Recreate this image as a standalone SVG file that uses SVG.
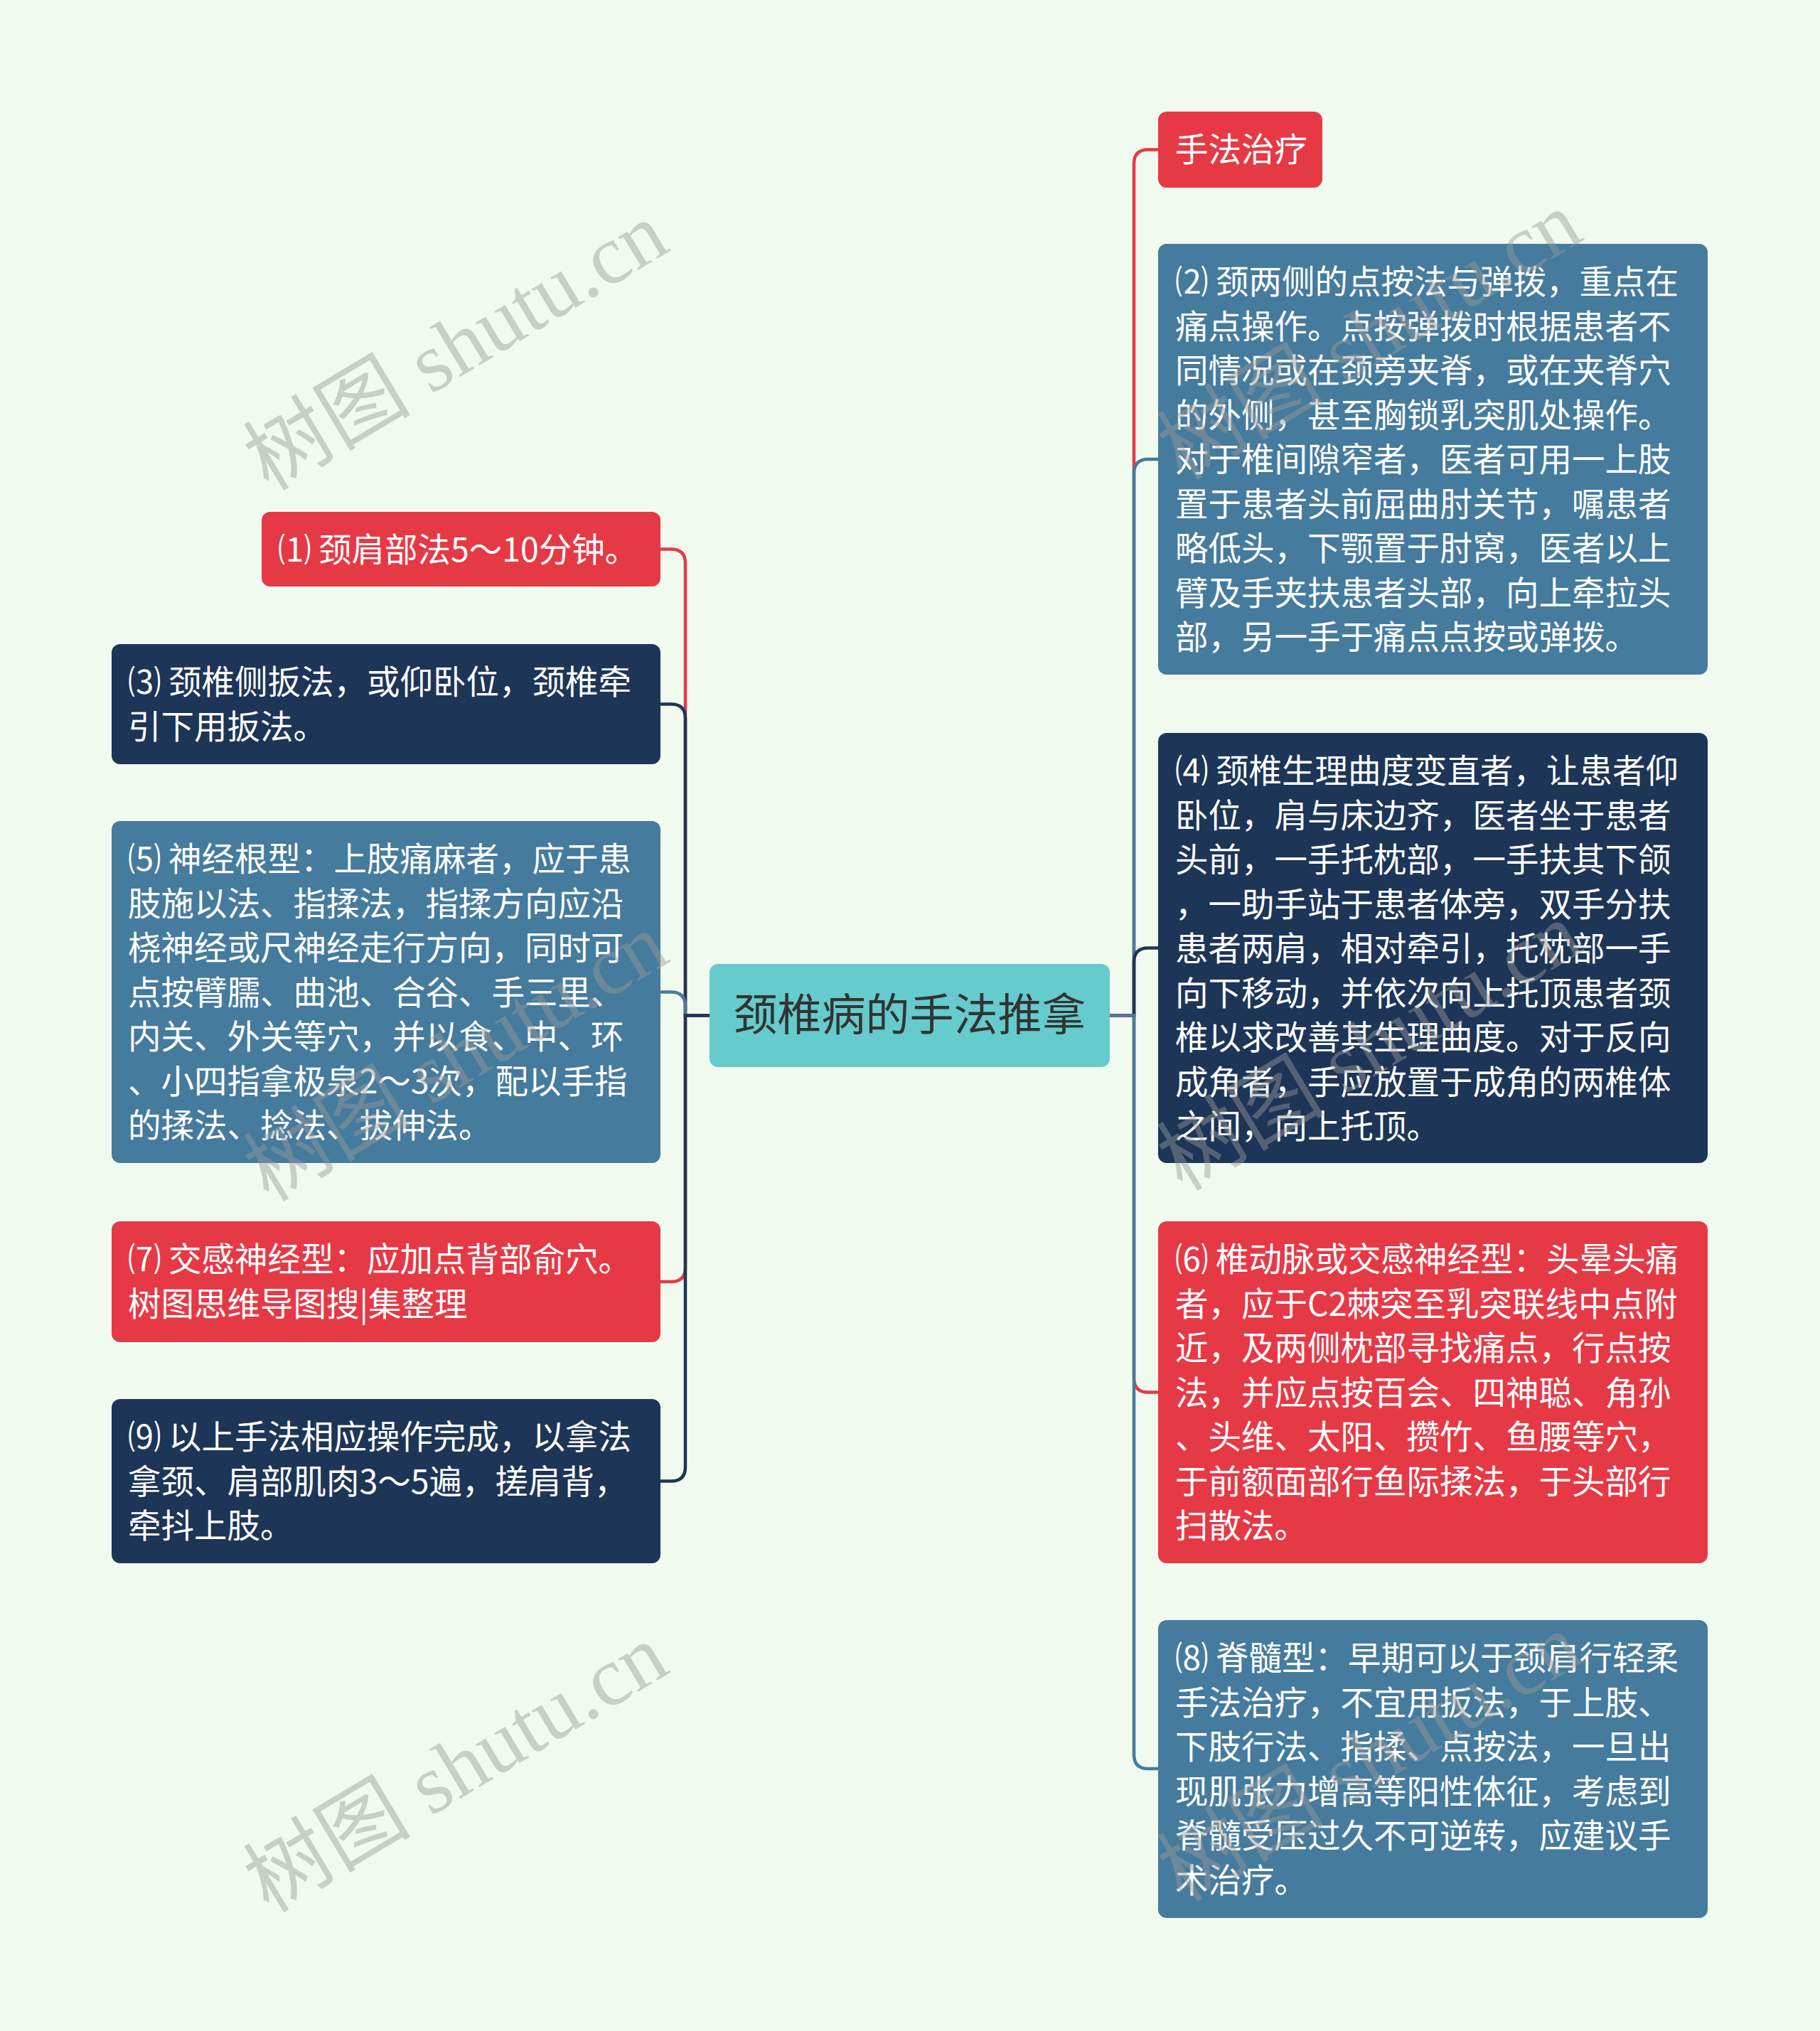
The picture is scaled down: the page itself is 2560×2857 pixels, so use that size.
<svg xmlns="http://www.w3.org/2000/svg" width="2560" height="2857" viewBox="0 0 2560 2857">
<style>
.bg{fill:#F1FAEE}
.red{fill:#E63946}
.blue{fill:#457B9D}
.navy{fill:#1D3557}
.root{fill:#65CBCC}
.t{font-family:"Noto Sans CJK SC","Noto Sans",sans-serif;font-size:46.5px;fill:#FFFFFF}
.rt{font-family:"Noto Sans CJK SC","Noto Sans",sans-serif;font-size:62px;fill:#333333}
.c{fill:none;stroke-width:4.5}
.cr{stroke:#E63946}
.cb{stroke:#457B9D}
.cn{stroke:#1D3557}
.wm{font-family:"Liberation Serif","Noto Sans CJK SC",serif;font-size:118px;fill:#9A9A9A;opacity:0.45}
</style>
<rect class="bg" x="0" y="0" width="2560" height="2857"/>

<g id="connectors">
<path class="c cr" d="M1561 1428.5 H1595 V230.5 Q1595 210.5 1615 210.5 H1629"/>
<path class="c cb" d="M1561 1428.5 H1595 V666 Q1595 646 1615 646 H1629"/>
<path class="c cn" d="M1561 1428.5 H1595 V1353.5 Q1595 1333.5 1615 1333.5 H1629"/>
<path class="c cr" d="M1561 1428.5 H1595 V1938.5 Q1595 1958.5 1615 1958.5 H1629"/>
<path class="c cb" d="M1561 1428.5 H1595 V2468 Q1595 2488 1615 2488 H1629"/>
<path class="c cr" d="M998 1428.5 H964 V792.5 Q964 772.5 944 772.5 H929"/>
<path class="c cn" d="M998 1428.5 H964 V1010.5 Q964 990.5 944 990.5 H929"/>
<path class="c cb" d="M998 1428.5 H964 V1415.5 Q964 1395.5 944 1395.5 H929"/>
<path class="c cr" d="M998 1428.5 H964 V1783 Q964 1803 944 1803 H929"/>
<path class="c cn" d="M998 1428.5 H964 V2063.5 Q964 2083.5 944 2083.5 H929"/>
</g>

<g id="root">
<rect class="root" x="998" y="1356" width="563" height="145" rx="12"/>
<text class="rt" x="1279.5" y="1450" text-anchor="middle">颈椎病的手法推拿</text>
</g>

<g id="n-title">
<rect class="red" x="1629" y="157" width="231" height="107" rx="12"/>
<text class="t" x="1653" y="227">手法治疗</text>
</g>

<g id="n2">
<rect class="blue" x="1629" y="343" width="773" height="606" rx="12"/>
<text class="t" x="1653" y="413">
<tspan x="1653" y="413">⑵ 颈两侧的点按法与弹拨，重点在</tspan>
<tspan x="1653" y="475.5">痛点操作。点按弹拨时根据患者不</tspan>
<tspan x="1653" y="538">同情况或在颈旁夹脊，或在夹脊穴</tspan>
<tspan x="1653" y="600.5">的外侧，甚至胸锁乳突肌处操作。</tspan>
<tspan x="1653" y="663">对于椎间隙窄者，医者可用一上肢</tspan>
<tspan x="1653" y="725.5">置于患者头前屈曲肘关节，嘱患者</tspan>
<tspan x="1653" y="788">略低头，下颚置于肘窝，医者以上</tspan>
<tspan x="1653" y="850.5">臂及手夹扶患者头部，向上牵拉头</tspan>
<tspan x="1653" y="913">部，另一手于痛点点按或弹拨。</tspan>
</text>
</g>

<g id="n4">
<rect class="navy" x="1629" y="1031" width="773" height="605" rx="12"/>
<text class="t" x="1653" y="1101">
<tspan x="1653" y="1101">⑷ 颈椎生理曲度变直者，让患者仰</tspan>
<tspan x="1653" y="1163.5">卧位，肩与床边齐，医者坐于患者</tspan>
<tspan x="1653" y="1226">头前，一手托枕部，一手扶其下颌</tspan>
<tspan x="1653" y="1288.5">，一助手站于患者体旁，双手分扶</tspan>
<tspan x="1653" y="1351">患者两肩，相对牵引，托枕部一手</tspan>
<tspan x="1653" y="1413.5">向下移动，并依次向上托顶患者颈</tspan>
<tspan x="1653" y="1476">椎以求改善其生理曲度。对于反向</tspan>
<tspan x="1653" y="1538.5">成角者，手应放置于成角的两椎体</tspan>
<tspan x="1653" y="1601">之间，向上托顶。</tspan>
</text>
</g>

<g id="n6">
<rect class="red" x="1629" y="1718" width="773" height="481" rx="12"/>
<text class="t" x="1653" y="1788">
<tspan x="1653" y="1788">⑹ 椎动脉或交感神经型：头晕头痛</tspan>
<tspan x="1653" y="1850.5">者，应于C2棘突至乳突联线中点附</tspan>
<tspan x="1653" y="1913">近，及两侧枕部寻找痛点，行点按</tspan>
<tspan x="1653" y="1975.5">法，并应点按百会、四神聪、角孙</tspan>
<tspan x="1653" y="2038">、头维、太阳、攒竹、鱼腰等穴，</tspan>
<tspan x="1653" y="2100.5">于前额面部行鱼际揉法，于头部行</tspan>
<tspan x="1653" y="2163">扫散法。</tspan>
</text>
</g>

<g id="n8">
<rect class="blue" x="1629" y="2279" width="773" height="419" rx="12"/>
<text class="t" x="1653" y="2349">
<tspan x="1653" y="2349">⑻ 脊髓型：早期可以于颈肩行轻柔</tspan>
<tspan x="1653" y="2411.5">手法治疗，不宜用扳法，于上肢、</tspan>
<tspan x="1653" y="2474">下肢行法、指揉、点按法，一旦出</tspan>
<tspan x="1653" y="2536.5">现肌张力增高等阳性体征，考虑到</tspan>
<tspan x="1653" y="2599">脊髓受压过久不可逆转，应建议手</tspan>
<tspan x="1653" y="2661.5">术治疗。</tspan>
</text>
</g>

<g id="n1">
<rect class="red" x="368" y="720" width="561" height="105" rx="12"/>
<text class="t" x="391" y="790">⑴ 颈肩部法5～10分钟。</text>
</g>

<g id="n3">
<rect class="navy" x="157" y="906" width="772" height="169" rx="12"/>
<text class="t" x="180" y="976">
<tspan x="180" y="976">⑶ 颈椎侧扳法，或仰卧位，颈椎牵</tspan>
<tspan x="180" y="1038.5">引下用扳法。</tspan>
</text>
</g>

<g id="n5">
<rect class="blue" x="157" y="1155" width="772" height="481" rx="12"/>
<text class="t" x="180" y="1225">
<tspan x="180" y="1225">⑸ 神经根型：上肢痛麻者，应于患</tspan>
<tspan x="180" y="1287.5">肢施以法、指揉法，指揉方向应沿</tspan>
<tspan x="180" y="1350">桡神经或尺神经走行方向，同时可</tspan>
<tspan x="180" y="1412.5">点按臂臑、曲池、合谷、手三里、</tspan>
<tspan x="180" y="1475">内关、外关等穴，并以食、中、环</tspan>
<tspan x="180" y="1537.5">、小四指拿极泉2～3次，配以手指</tspan>
<tspan x="180" y="1600">的揉法、捻法、拔伸法。</tspan>
</text>
</g>

<g id="n7">
<rect class="red" x="157" y="1718" width="772" height="170" rx="12"/>
<text class="t" x="180" y="1788">
<tspan x="180" y="1788">⑺ 交感神经型：应加点背部俞穴。</tspan>
<tspan x="180" y="1850.5">树图思维导图搜|集整理</tspan>
</text>
</g>

<g id="n9">
<rect class="navy" x="157" y="1968" width="772" height="231" rx="12"/>
<text class="t" x="180" y="2038">
<tspan x="180" y="2038">⑼ 以上手法相应操作完成，以拿法</tspan>
<tspan x="180" y="2100.5">拿颈、肩部肌肉3～5遍，搓肩背，</tspan>
<tspan x="180" y="2163">牵抖上肢。</tspan>
</text>
</g>

<g id="watermarks">
<text class="wm" transform="translate(378 692) rotate(-31)">树图 shutu.cn</text>
<text class="wm" transform="translate(378 1692) rotate(-31)">树图 shutu.cn</text>
<text class="wm" transform="translate(378 2692) rotate(-31)">树图 shutu.cn</text>
<text class="wm" transform="translate(1663 677) rotate(-31)">树图 shutu.cn</text>
<text class="wm" transform="translate(1663 1677) rotate(-31)">树图 shutu.cn</text>
<text class="wm" transform="translate(1663 2677) rotate(-31)">树图 shutu.cn</text>
</g>
</svg>
